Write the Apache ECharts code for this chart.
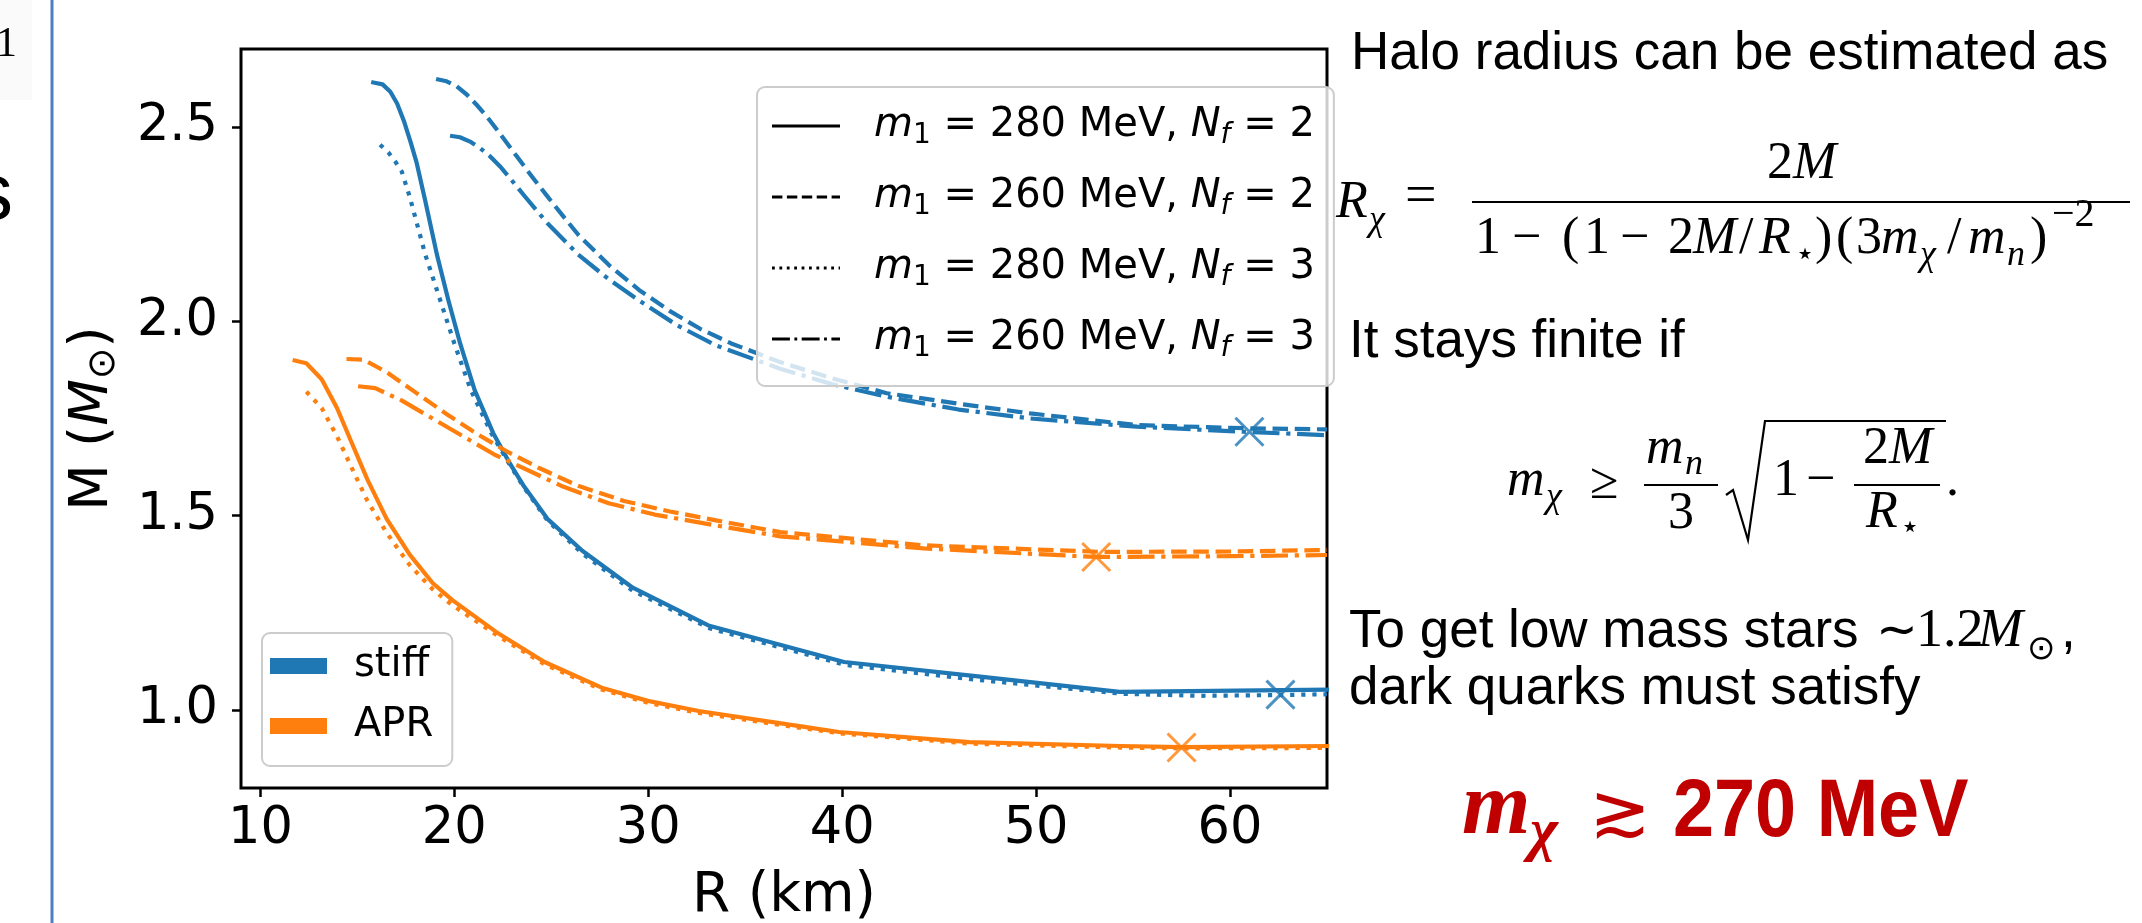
<!DOCTYPE html>
<html>
<head>
<meta charset="utf-8">
<script src="https://cdn.jsdelivr.net/npm/echarts@6/dist/echarts.min.js"></script>
<style>
html,body{margin:0;padding:0;background:#fff;}
#chart{width:2142px;height:923px;}
</style>
</head>
<body>
<div id="chart"></div>
<script>
// ---------------- data ----------------
const xTicks = [10, 20, 30, 40, 50, 60];
const yTicks = [1.0, 1.5, 2.0, 2.5];

// stiff EoS (blue)
const stiff280N2_R = [15.82, 16.3, 16.7, 17.05, 17.4, 17.75, 18.06, 18.5, 19.1, 19.7, 20.3, 21.05, 22.0, 22.8, 23.6, 24.8, 26.6, 29.2, 33.1, 40.1, 47.0, 54.3, 65.0];
const stiff280N2_M = [2.614, 2.609, 2.59, 2.56, 2.515, 2.46, 2.407, 2.31, 2.172, 2.053, 1.943, 1.823, 1.713, 1.64, 1.575, 1.492, 1.41, 1.315, 1.218, 1.124, 1.087, 1.047, 1.053];

const stiff260N2_R = [19.06, 19.6, 20.12, 20.64, 21.16, 21.67, 22.19, 22.7, 23.22, 24.0, 24.8, 25.6, 26.38, 27.96, 29.54, 31.12, 32.7, 34.28, 36.8, 39.5, 42.3, 46.0, 49.7, 55.2, 60.7, 65.0];
const stiff260N2_M = [2.623, 2.617, 2.604, 2.583, 2.556, 2.527, 2.493, 2.459, 2.424, 2.372, 2.321, 2.271, 2.223, 2.145, 2.08, 2.026, 1.98, 1.943, 1.895, 1.853, 1.815, 1.788, 1.763, 1.733, 1.725, 1.722];

const stiff280N3_R = [16.17, 16.6, 16.95, 17.29, 17.7, 18.5, 19.3, 20.0, 20.85, 21.9, 22.75, 23.6, 24.8, 26.6, 29.2, 33.2, 40.2, 47.0, 54.5, 58.5, 62.6, 65.0];
const stiff280N3_M = [2.454, 2.434, 2.411, 2.385, 2.32, 2.172, 2.05, 1.943, 1.823, 1.713, 1.64, 1.572, 1.488, 1.403, 1.307, 1.21, 1.116, 1.078, 1.042, 1.037, 1.039, 1.041];

const stiff260N3_R = [19.78, 20.29, 20.81, 21.33, 21.84, 22.36, 22.87, 23.62, 24.8, 26.38, 27.96, 29.54, 31.51, 33.49, 36.8, 39.5, 42.3, 46.0, 49.7, 55.2, 60.7, 65.0];
const stiff260N3_M = [2.477, 2.473, 2.462, 2.445, 2.424, 2.398, 2.368, 2.322, 2.252, 2.172, 2.108, 2.053, 1.989, 1.938, 1.878, 1.838, 1.806, 1.773, 1.75, 1.729, 1.716, 1.707];

// APR EoS (orange)
const apr280N2_R = [11.77, 12.37, 13.16, 13.95, 14.73, 15.52, 16.51, 17.7, 18.88, 19.9, 22.28, 24.65, 27.6, 29.98, 32.6, 37.8, 39.83, 46.57, 54.35, 57.5, 65.0];
const apr280N2_M = [1.899, 1.892, 1.851, 1.777, 1.685, 1.593, 1.492, 1.4, 1.327, 1.283, 1.197, 1.124, 1.058, 1.024, 0.998, 0.959, 0.944, 0.918, 0.908, 0.905, 0.908];

const apr260N2_R = [14.44, 15.33, 16.51, 18.09, 19.67, 21.25, 22.83, 24.4, 26.38, 28.75, 31.12, 33.49, 36.8, 44.2, 53.4, 60.0, 65.0];
const apr260N2_M = [1.903, 1.901, 1.869, 1.814, 1.759, 1.708, 1.662, 1.622, 1.577, 1.538, 1.511, 1.488, 1.458, 1.424, 1.407, 1.408, 1.412];

const apr280N3_R = [12.37, 13.16, 13.95, 14.73, 15.52, 16.51, 17.7, 18.9, 19.9, 22.28, 24.65, 27.6, 30.0, 32.6, 37.8, 40.0, 46.6, 54.4, 57.5, 65.0];
const apr280N3_M = [1.819, 1.777, 1.704, 1.621, 1.538, 1.456, 1.373, 1.31, 1.27, 1.19, 1.118, 1.053, 1.019, 0.993, 0.955, 0.94, 0.914, 0.904, 0.902, 0.903];

const apr260N3_R = [15.04, 15.92, 17.3, 18.88, 20.46, 22.04, 23.62, 25.6, 27.96, 30.33, 33.49, 36.8, 44.2, 53.1, 60.0, 65.0];
const apr260N3_M = [1.833, 1.828, 1.796, 1.75, 1.704, 1.658, 1.621, 1.575, 1.532, 1.503, 1.475, 1.447, 1.416, 1.394, 1.396, 1.399];

// cross markers
const stiffMarkR = [61.0, 62.6];
const stiffMarkM = [1.716, 1.040];
const aprMarkR = [53.1, 57.5];
const aprMarkM = [1.394, 0.904];

// legend labels
const styleLegendNames = ['m1=280,Nf=2', 'm1=260,Nf=2', 'm1=280,Nf=3', 'm1=260,Nf=3'];
const styleLegendMasses = ['280', '260', '280', '260'];
const styleLegendNf = ['2', '2', '3', '3'];
const eosNames = ['stiff', 'APR'];

// ---------------- styles ----------------
const BLUE = '#1f77b4', ORANGE = '#ff7f0e';
const LW = 4.2;
const DASH = { solid: 'solid', dashed: [15.5, 6.7], dotted: [4.2, 6.9], dashdot: [26.9, 6.7, 4.2, 6.7] };
const LEG_DASH = { solid: null, dashed: [10.4, 4.5], dotted: [2.8, 4.6], dashdot: [17.9, 4.5, 2.8, 4.5] };
const styleKinds = ['solid', 'dashed', 'dotted', 'dashdot'];

function pairs(R, M) { return R.map((r, i) => [r, M[i]]); }

function curve(name, R, M, color, kind) {
  return {
    type: 'line', name: name, data: pairs(R, M), symbol: 'none', showSymbol: false,
    smooth: false, silent: true, animation: false, z: 2,
    lineStyle: { color: color, width: LW, type: DASH[kind], cap: kind === 'solid' ? 'square' : 'butt', join: 'round' },
    itemStyle: { color: color }, emphasis: { disabled: true }
  };
}

function legendPath(kind) {
  const W = 68, H = 2.8;
  const pat = LEG_DASH[kind];
  if (!pat) return 'path://M0,0H' + W + 'V' + H + 'H0Z';
  let x = 0, k = 0, d = '';
  while (x < W) {
    const len = pat[k % pat.length];
    if (k % 2 === 0) {
      const x2 = Math.min(W, x + len);
      d += 'M' + x.toFixed(2) + ',0H' + x2.toFixed(2) + 'V' + H + 'H' + x.toFixed(2) + 'Z';
    }
    x += len; k++;
  }
  return 'path://' + d;
}

const series = [
  curve('s280N2', stiff280N2_R, stiff280N2_M, BLUE, 'solid'),
  curve('s260N2', stiff260N2_R, stiff260N2_M, BLUE, 'dashed'),
  curve('s280N3', stiff280N3_R, stiff280N3_M, BLUE, 'dotted'),
  curve('s260N3', stiff260N3_R, stiff260N3_M, BLUE, 'dashdot'),
  curve('a280N2', apr280N2_R, apr280N2_M, ORANGE, 'solid'),
  curve('a260N2', apr260N2_R, apr260N2_M, ORANGE, 'dashed'),
  curve('a280N3', apr280N3_R, apr280N3_M, ORANGE, 'dotted'),
  curve('a260N3', apr260N3_R, apr260N3_M, ORANGE, 'dashdot'),
  {
    type: 'scatter', name: 'stiffX', data: pairs(stiffMarkR, stiffMarkM), symbol: 'path://M0,0L10,10M10,0L0,10',
    symbolSize: 28, silent: true, z: 3, itemStyle: { color: 'rgba(0,0,0,0)', borderColor: BLUE, borderWidth: 3 }
  },
  {
    type: 'scatter', name: 'aprX', data: pairs(aprMarkR, aprMarkM), symbol: 'path://M0,0L10,10M10,0L0,10',
    symbolSize: 28, silent: true, z: 3, itemStyle: { color: 'rgba(0,0,0,0)', borderColor: ORANGE, borderWidth: 3 }
  }
];
// dummy series for legends
styleLegendNames.forEach(n => series.push({ type: 'line', name: n, data: [], itemStyle: { color: '#000' }, lineStyle: { color: '#000' } }));
series.push({ type: 'line', name: eosNames[0], data: [], itemStyle: { color: BLUE }, lineStyle: { color: BLUE } });
series.push({ type: 'line', name: eosNames[1], data: [], itemStyle: { color: ORANGE }, lineStyle: { color: ORANGE } });

const legRich = {
  r: { fontFamily: 'DejaVu Sans', fontSize: 40, lineHeight: 50, color: '#000' },
  i: { fontFamily: 'DejaVu Sans', fontStyle: 'italic', fontSize: 40, lineHeight: 50, color: '#000' },
  s: { fontFamily: 'DejaVu Sans', fontSize: 28, lineHeight: 50, padding: [20, 0, 0, 0], color: '#000' },
  si: { fontFamily: 'DejaVu Sans', fontStyle: 'italic', fontSize: 28, lineHeight: 50, padding: [20, 0, 0, 0], color: '#000' }
};

// ---------------- graphic text helpers ----------------
const SERIF = 'Liberation Serif', SANS = 'Liberation Sans';
function txt(x, base, text, fs, family, opt) {
  opt = opt || {};
  const align = opt.align || 'left';
  const el = {
    type: 'text', x: x, y: base - 0.34 * fs, silent: true, z: 100,
    style: {
      text: text, fontSize: fs, fontFamily: family,
      fontStyle: opt.italic ? 'italic' : 'normal', fontWeight: opt.bold ? 'bold' : 'normal',
      fill: opt.color || '#000', align: align, textAlign: align, verticalAlign: 'middle', textVerticalAlign: 'middle'
    }
  };
  if (opt.scaleX) el.scaleX = opt.scaleX;
  return el;
}
function hline(x1, x2, y, w) {
  return { type: 'line', silent: true, z: 100, shape: { x1: x1, y1: y, x2: x2, y2: y }, style: { stroke: '#000', lineWidth: w || 2 } };
}

const RED = '#c00000';
const F = 52; // formula font size
const FS = 36; // formula sub/superscript size
const graphics = [
  // left slide decorations
  { type: 'rect', silent: true, shape: { x: 0, y: 0, width: 32, height: 100 }, style: { fill: '#fafafa' } },
  txt(-4, 59, '1', 42, SERIF),
  txt(-27, 224, 's', 80, SANS),
  { type: 'line', silent: true, shape: { x1: 52, y1: 0, x2: 52, y2: 923 }, style: { stroke: '#4f7fc0', lineWidth: 3 } },

  // right text panel
  txt(1351, 72, 'Halo radius can be estimated as', 53, SANS),
  // R_chi = fraction
  txt(1336, 221, 'R', F, SERIF, { italic: true }),
  txt(1369, 233, 'χ', FS, SERIF, { italic: true }),
  txt(1405, 217, '=', 56, SERIF),
  txt(1793, 182, '2', F, SERIF, { align: 'right' }),
  txt(1793, 182, 'M', F, SERIF, { italic: true }),
  hline(1472, 2130, 202, 2.2),
  txt(1475, 257, '1', F, SERIF),
  txt(1512, 257, '−', F, SERIF),
  txt(1562, 257, '(', F, SERIF),
  txt(1584, 257, '1', F, SERIF),
  txt(1620, 257, '−', F, SERIF),
  txt(1668, 257, '2', F, SERIF),
  txt(1693, 257, 'M', F, SERIF, { italic: true }),
  txt(1739, 257, '/', F, SERIF),
  txt(1759, 257, 'R', F, SERIF, { italic: true }),
  txt(1795, 267, '⋆', 32, 'DejaVu Sans'),
  txt(1815, 257, ')', F, SERIF),
  txt(1836, 257, '(', F, SERIF),
  txt(1856, 257, '3', F, SERIF),
  txt(1881, 257, 'm', F, SERIF, { italic: true }),
  txt(1920, 268, 'χ', FS, SERIF, { italic: true }),
  txt(1947, 257, '/', F, SERIF),
  txt(1968, 257, 'm', F, SERIF, { italic: true }),
  txt(2007, 268, 'n', FS, SERIF, { italic: true }),
  txt(2030, 257, ')', F, SERIF),
  txt(2052, 229, '−2', 40, SERIF),

  txt(1349, 360, 'It stays finite if', 53, SANS),
  // m_chi >= m_n/3 sqrt(1 - 2M/R*)
  txt(1507, 499, 'm', F, SERIF, { italic: true }),
  txt(1546, 510, 'χ', FS, SERIF, { italic: true }),
  txt(1590, 502, '≥', F, SERIF),
  txt(1646, 467, 'm', F, SERIF, { italic: true }),
  txt(1685, 477, 'n', FS, SERIF, { italic: true }),
  hline(1644, 1718, 485, 2.2),
  txt(1681, 532, '3', F, SERIF, { align: 'center' }),
  { type: 'polyline', silent: true, z: 100, shape: { points: [[1726, 495], [1733, 490], [1748, 540], [1765, 421], [1946, 421]] }, style: { stroke: '#000', lineWidth: 2.2, fill: null } },
  txt(1773, 499, '1', F, SERIF),
  txt(1806, 499, '−', F, SERIF),
  txt(1889, 467, '2', F, SERIF, { align: 'right' }),
  txt(1889, 467, 'M', F, SERIF, { italic: true }),
  hline(1854, 1940, 485, 2.2),
  txt(1866, 531, 'R', F, SERIF, { italic: true }),
  txt(1900, 540, '⋆', 32, 'DejaVu Sans'),
  txt(1946, 499, '.', F, SERIF),

  // low mass stars
  txt(1349, 650, 'To get low mass stars ', 53, SANS),
  txt(1876, 650, '∼', 50, SERIF),
  txt(1916, 650, '1.2', 54, SERIF),
  txt(1978, 650, 'M', 54, SERIF, { italic: true }),
  txt(2027, 662, '⊙', 34, 'DejaVu Sans'),
  txt(2061, 650, ',', 53, SANS),
  txt(1349, 707, 'dark quarks must satisfy', 53, SANS),

  // red conclusion
  txt(1462, 840, 'm', 88, SERIF, { italic: true, bold: true, color: RED }),
  txt(1530, 854, 'χ', 60, SERIF, { italic: true, bold: true, color: RED }),
  txt(1589, 842, '≳', 74, 'DejaVu Sans', { color: RED }),
  txt(1673, 841, '270 MeV', 82, SANS, { bold: true, color: RED, scaleX: 0.9 })
];

// ---------------- chart ----------------
const chart = echarts.init(document.getElementById('chart'), null, { renderer: 'canvas' });
chart.setOption({
  animation: false,
  backgroundColor: '#ffffff',
  grid: {
    left: 241, top: 49, width: 1086, height: 739, containLabel: false, outerBoundsMode: 'none',
    show: true, borderColor: '#000', borderWidth: 3, backgroundColor: 'rgba(0,0,0,0)'
  },
  xAxis: {
    type: 'value', min: 9, max: 65,
    name: 'R (km)', nameLocation: 'middle', nameGap: 77,
    nameTextStyle: { fontFamily: 'DejaVu Sans', fontSize: 55, color: '#000', lineHeight: 64 },
    axisLine: { show: false },
    axisTick: { show: true, length: 9, lineStyle: { color: '#000', width: 2.5 }, customValues: xTicks },
    axisLabel: { customValues: xTicks, fontFamily: 'DejaVu Sans', fontSize: 51, color: '#000', margin: 12, lineHeight: 60 },
    splitLine: { show: false }
  },
  yAxis: {
    type: 'value', min: 0.8, max: 2.7,
    name: '{r|M (}{i|M}{s|⊙}{r|)}', nameLocation: 'middle', nameGap: 116,
    nameTextStyle: {
      color: '#000', lineHeight: 64,
      rich: {
        r: { fontFamily: 'DejaVu Sans', fontSize: 54, lineHeight: 64, color: '#000' },
        i: { fontFamily: 'DejaVu Sans', fontStyle: 'italic', fontSize: 54, lineHeight: 64, color: '#000' },
        s: { fontFamily: 'DejaVu Sans', fontSize: 38, lineHeight: 64, padding: [22, 0, 0, 0], color: '#000' }
      }
    },
    axisLine: { show: false },
    axisTick: { show: true, length: 9, lineStyle: { color: '#000', width: 2.5 }, customValues: yTicks },
    axisLabel: { customValues: yTicks, fontFamily: 'DejaVu Sans', fontSize: 51, color: '#000', margin: 23, formatter: v => v.toFixed(1) },
    splitLine: { show: false }
  },
  legend: [
    {
      orient: 'vertical', left: 757, top: 87, selectedMode: false,
      padding: [14, 19, 22, 15], itemGap: 21, itemWidth: 68, itemHeight: 2.8,
      backgroundColor: 'rgba(255,255,255,0.8)', borderColor: '#cccccc', borderWidth: 2, borderRadius: 8,
      data: styleLegendNames.map((n, i) => ({ name: n, icon: legendPath(styleKinds[i]) })),
      formatter: function (name) {
        const i = styleLegendNames.indexOf(name);
        return '{i|m}{s|1}{r| = ' + styleLegendMasses[i] + ' MeV, }{i|N}{si|f}{r| = ' + styleLegendNf[i] + '}';
      },
      textStyle: { padding: [0, 0, 0, 29], lineHeight: 50, rich: legRich }
    },
    {
      orient: 'vertical', left: 262, top: 633, selectedMode: false,
      padding: [11, 19, 18, 8], itemGap: 16, itemWidth: 57, itemHeight: 16,
      backgroundColor: 'rgba(255,255,255,0.8)', borderColor: '#cccccc', borderWidth: 2, borderRadius: 8,
      data: eosNames.map(n => ({ name: n, icon: 'rect' })),
      textStyle: { fontFamily: 'DejaVu Sans', fontSize: 40, color: '#000', lineHeight: 44, padding: [0, 0, 0, 22] }
    }
  ],
  series: series,
  graphic: graphics
});
</script>
</body>
</html>
